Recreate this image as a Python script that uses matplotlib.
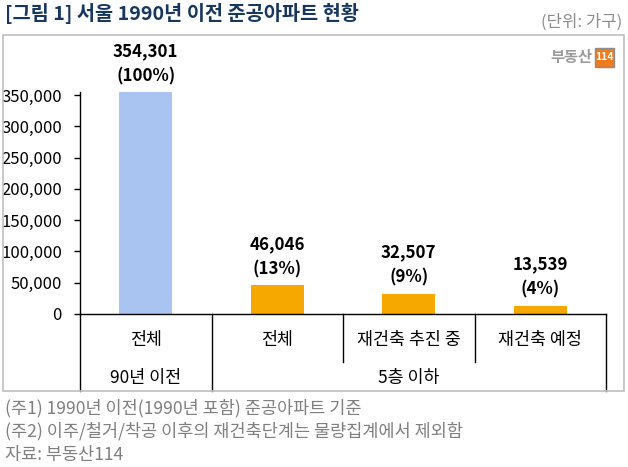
import matplotlib
matplotlib.use('Agg')
import matplotlib.pyplot as plt
from matplotlib.patches import Rectangle
from matplotlib.lines import Line2D

plt.rcParams['font.family'] = ['Noto Sans CJK KR', 'DejaVu Sans']

# 데이터
categories = ['전체', '전체', '재건축 추진 중', '재건축 예정']
groups = ['90년 이전', '5층 이하']
group_spans = [(0, 0), (1, 3)]
values = [354301, 46046, 32507, 13539]
shares = ['100%', '13%', '9%', '4%']
bar_colors = ['#AAC4F2', '#F7A800', '#F7A800', '#F7A800']
yticks = [0, 50000, 100000, 150000, 200000, 250000, 300000, 350000]
notes = ['(주1) 1990년 이전(1990년 포함) 준공아파트 기준',
         '(주2) 이주/철거/착공 이후의 재건축단계는 물량집계에서 제외함',
         '자료: 부동산114']

W, H = 628, 467
fig = plt.figure(figsize=(W / 100, H / 100), dpi=100)


def fx(x):
    return x / W


def fy(y):
    return 1 - y / H


# 바깥 테두리
fig.patches.append(Rectangle((fx(3), fy(391)), fx(621), (391 - 35) / H,
                             transform=fig.transFigure, fill=False,
                             edgecolor='#BFBFBF', lw=1.2))

# 제목
fig.text(fx(5), fy(13), '[그림 1] 서울 1990년 이전 준공아파트 현황', fontsize=14.2,
         fontweight='bold', color='#17375E', va='center', ha='left')
fig.text(fx(622), fy(22), '(단위: 가구)', fontsize=12, color='#8C8C8C',
         va='center', ha='right')

# 그래프 영역
ax_top, ax_bot = 92, 314
ax = fig.add_axes([fx(80), fy(ax_bot), fx(526), (ax_bot - ax_top) / H])
x = list(range(len(categories)))
ax.bar(x, values, width=0.40, color=bar_colors)
ax.set_xlim(-0.5, 3.5)
ax.set_ylim(0, 355000)
ax.set_yticks(yticks)
ax.set_yticklabels([f'{v:,}' for v in yticks], fontsize=12)
ax.tick_params(axis='y', direction='out', length=4, width=1, pad=9)
ax.set_xticks([])
for s in ['top', 'right']:
    ax.spines[s].set_visible(False)
for s in ['left', 'bottom']:
    ax.spines[s].set_color('black')
    ax.spines[s].set_linewidth(1)

for xi, v, p in zip(x, values, shares):
    ax.annotate(f'{v:,}', (xi, v), xytext=(0, 41), textcoords='offset pixels',
                ha='center', va='center', fontsize=12.2, fontweight='bold')
    ax.annotate(f'({p})', (xi, v), xytext=(0, 16), textcoords='offset pixels',
                ha='center', va='center', fontsize=12.2, fontweight='bold')


# 아래 카테고리 축
def ay(y):
    return (ax_bot - y) / (ax_bot - ax_top)


tr = ax.get_xaxis_transform()
for xi, c in zip(x, categories):
    ax.text(xi, ay(340), c, transform=tr, ha='center', va='center', fontsize=12.5)
for (a, b), g in zip(group_spans, groups):
    ax.text((a + b) / 2, ay(378), g, transform=tr, ha='center', va='center',
            fontsize=12.5)
for sep in [-0.5, 0.5, 1.5, 2.5, 3.5]:
    end = 362 if sep in (1.5, 2.5) else 391
    ax.add_line(Line2D([sep, sep], [0, ay(end)], transform=tr, color='black',
                       lw=1, clip_on=False))

# 로고
fig.text(fx(592), fy(57), '부동산', fontsize=11, fontweight='bold',
         color='#9A9A9A', ha='right', va='center')
fig.patches.append(Rectangle((fx(595), fy(67)), fx(19), 19 / H,
                             transform=fig.transFigure, facecolor='#F07A1E',
                             edgecolor='#8C8C8C', lw=1))
fig.text(fx(604.5), fy(57.5), '114', fontsize=7.5, fontweight='bold',
         color='white', ha='center', va='center')

# 주석
for i, n in enumerate(notes):
    fig.text(fx(5), fy(408 + 23.5 * i), n, fontsize=12.6, color='#7F7F7F',
             ha='left', va='center')

fig.savefig('out.png', dpi=100)
